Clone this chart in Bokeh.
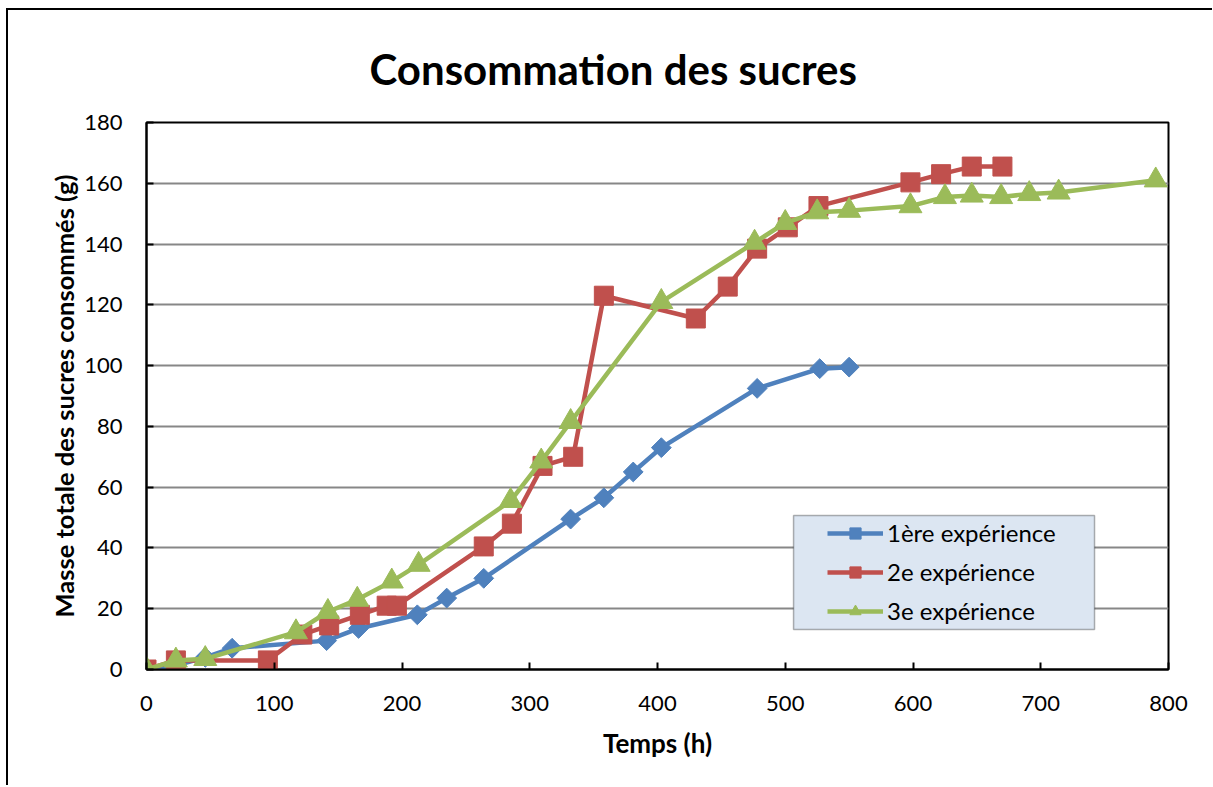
import numpy as np
from bokeh.plotting import figure
from bokeh.models import Range1d, Legend, LegendItem, BoxAnnotation, FixedTicker, Title
from bokeh.embed import file_html
from bokeh.resources import INLINE

# ---- data ----
series_names = ["1ère expérience", "2e expérience", "3e expérience"]

t1 = [0, 20, 46, 67, 141, 166, 212, 235, 264, 332, 358, 381, 403, 478, 527, 550]
m1 = [0, 1, 4, 7, 9.5, 13.5, 18, 23.5, 30, 49.5, 56.5, 65, 73, 92.5, 99, 99.5]

t2 = [0, 23, 95, 122, 143, 167, 188, 196, 264, 286, 310, 334, 358, 430, 455, 478, 502, 526, 598, 622, 646, 670]
m2 = [0, 3, 3, 11.5, 14.5, 18, 21, 21, 40.5, 48, 67, 70, 123, 115.5, 126, 138.5, 145.5, 152.5, 160.3, 163, 165.5, 165.5]

t3 = [0, 23, 46, 117, 142, 165, 192, 213, 285, 309, 332, 403, 476, 500, 525, 550, 598, 625, 646, 669, 691, 714, 790]
m3 = [0, 3, 3.5, 12.3, 19, 23, 29, 34.5, 55.5, 68.5, 81.5, 121, 140.5, 147, 150.5, 151, 152.5, 155.5, 156, 155.5, 156.5, 157, 161]

x_ticks = [0, 100, 200, 300, 400, 500, 600, 700, 800]
y_ticks = [0, 20, 40, 60, 80, 100, 120, 140, 160, 180]

title_text = "Consommation des sucres"
x_label = "Temps (h)"
y_label = "Masse totale des sucres consommés (g)"

# ---- styles ----
FONT = "Lato"
colors = ["#4F81BD", "#C0504D", "#9BBB59"]

p = figure(
    output_backend="svg", toolbar_location=None,
    frame_width=1022, frame_height=547,
    min_border_left=138, min_border_right=44, min_border_top=112, min_border_bottom=116,
    x_range=Range1d(0, 800), y_range=Range1d(0, 180),
    background_fill_color="white", border_fill_color="white",
    styles={"margin-left": "6px", "margin-top": "8px",
            "border-top": "2px solid black", "border-left": "2px solid black"},
)

p.outline_line_color = "black"
p.outline_line_width = 2

p.xgrid.visible = False
p.ygrid.grid_line_color = "#878787"
p.ygrid.grid_line_width = 2

for ax in (p.xaxis[0], p.yaxis[0]):
    ax.axis_line_color = "black"
    ax.axis_line_width = 2
    ax.major_tick_line_color = "black"
    ax.major_tick_line_width = 2
    ax.major_tick_in = 7
    ax.major_tick_out = 0
    ax.minor_tick_line_color = None
    ax.major_label_text_font = FONT
    ax.major_label_text_font_size = "22px"
    ax.major_label_text_color = "black"
    ax.axis_label_text_font = FONT
    ax.axis_label_text_font_style = "bold"
    ax.axis_label_text_color = "black"

p.xaxis[0].ticker = FixedTicker(ticks=x_ticks)
p.yaxis[0].ticker = FixedTicker(ticks=y_ticks)
p.xaxis[0].axis_label = x_label
p.yaxis[0].axis_label = y_label
p.xaxis[0].axis_label_text_font_size = "26px"
p.yaxis[0].axis_label_text_font_size = "25.5px"
p.xaxis[0].major_label_standoff = 26
p.xaxis[0].axis_label_standoff = 13
p.yaxis[0].major_label_standoff = 24
p.yaxis[0].axis_label_standoff = 2

t = Title(text=title_text, text_font=FONT, text_font_size="42px", text_font_style="bold",
          text_color="black", align="left", offset=223, standoff=58)
p.add_layout(t, "above")

# legend background box
box = BoxAnnotation(left=506.5, right=742.1, bottom=13.2, top=50.7,
                    fill_color="#DCE6F2", fill_alpha=1.0,
                    line_color="black", line_width=1.5)
p.add_layout(box)

data = [(t1, m1), (t2, m2), (t3, m3)]
markers = [dict(marker="square", size=14, angle=np.pi / 4),
           dict(marker="square", size=19, angle=0),
           dict(marker="triangle", size=23, angle=0)]

items = []
for (tx, my), col, mk, name in zip(data, colors, markers, series_names):
    ln = p.line(tx, my, line_color=col, line_width=4.5)
    sc = p.scatter(tx, my, marker=mk["marker"], size=mk["size"], angle=mk["angle"],
                   fill_color=col, line_color=col)
    items.append(LegendItem(label=name, renderers=[ln, sc]))

legend = Legend(items=items, location=(674, 37), padding=7, spacing=10,
                glyph_width=56, glyph_height=28, label_height=28, label_standoff=4,
                label_text_font=FONT, label_text_font_size="24px", label_text_color="black",
                background_fill_alpha=0, border_line_alpha=0)
p.add_layout(legend, "center")

open("out.html", "w").write(file_html(p, INLINE))
